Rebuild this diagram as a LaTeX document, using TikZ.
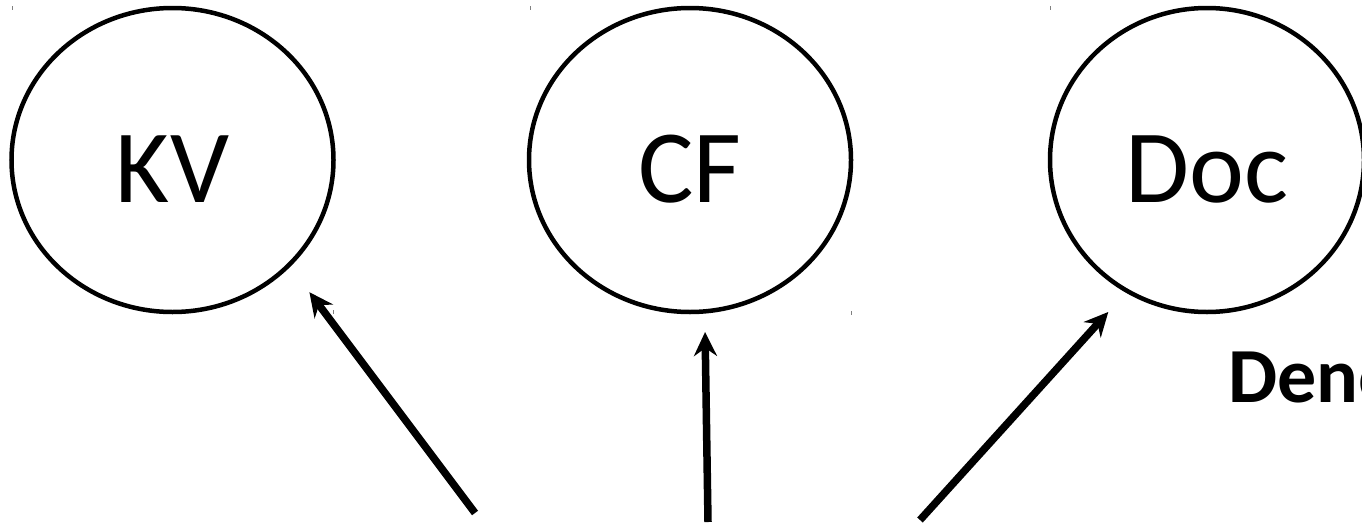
\documentclass[tikz,border=0pt]{standalone}
\usepackage{fontspec}
\setmainfont{Carlito}
\usetikzlibrary{arrows.meta,shapes.geometric}
\tikzset{
  bubble/.style={ellipse, draw, line width=4.5pt, inner sep=0pt,
    minimum width=#1, minimum height=304pt, text height=84pt, text depth=0pt,
    font=\fontsize{104}{110}\selectfont},
  bubble/.default=322pt,
  arr/.style={line width=7.5pt, -{Stealth[length=24pt,width=23pt,inset=8pt,sep=4pt]}},
  tick/.style={line width=0.8pt, gray},
  lbl/.style={anchor=base west, inner sep=0pt, font=\bfseries\fontsize{78}{82}\selectfont}
}
\begin{document}
\begin{tikzpicture}[x=1pt,y=-1pt]
\useasboundingbox (0,0) rectangle (1362,525);
\fill[white] (0,0) rectangle (1362,525);
\node[bubble] (kv) at (172.5,160) {KV};
\node[bubble] (cf) at (690,160) {CF};
\node[bubble=314pt] (doc) at (1207,160) {Doc};
\begin{scope}
\clip (0,0) rectangle (1362,525);
\node[lbl] (deno) at (1228,402) {Deno};
\end{scope}
\coordinate (kvsrc) at (475,513);
\coordinate (kvtip) at (307,289);
\coordinate (cfsrc) at (708,522);
\coordinate (cftip) at (705,328);
\coordinate (docsrc) at (920,520);
\coordinate (doctip) at (1111,309);
\draw[arr] (kvsrc) -- (kvtip);
\draw[arr] (cfsrc) -- (cftip);
\draw[arr] (docsrc) -- (doctip);
\draw[tick] (12,6) -- (12,10);
\draw[tick] (333,310) -- (333,314);
\draw[tick] (530,6) -- (530,10);
\draw[tick] (851,311) -- (851,315);
\draw[tick] (1050,6) -- (1050,10);
\end{tikzpicture}
\end{document}
